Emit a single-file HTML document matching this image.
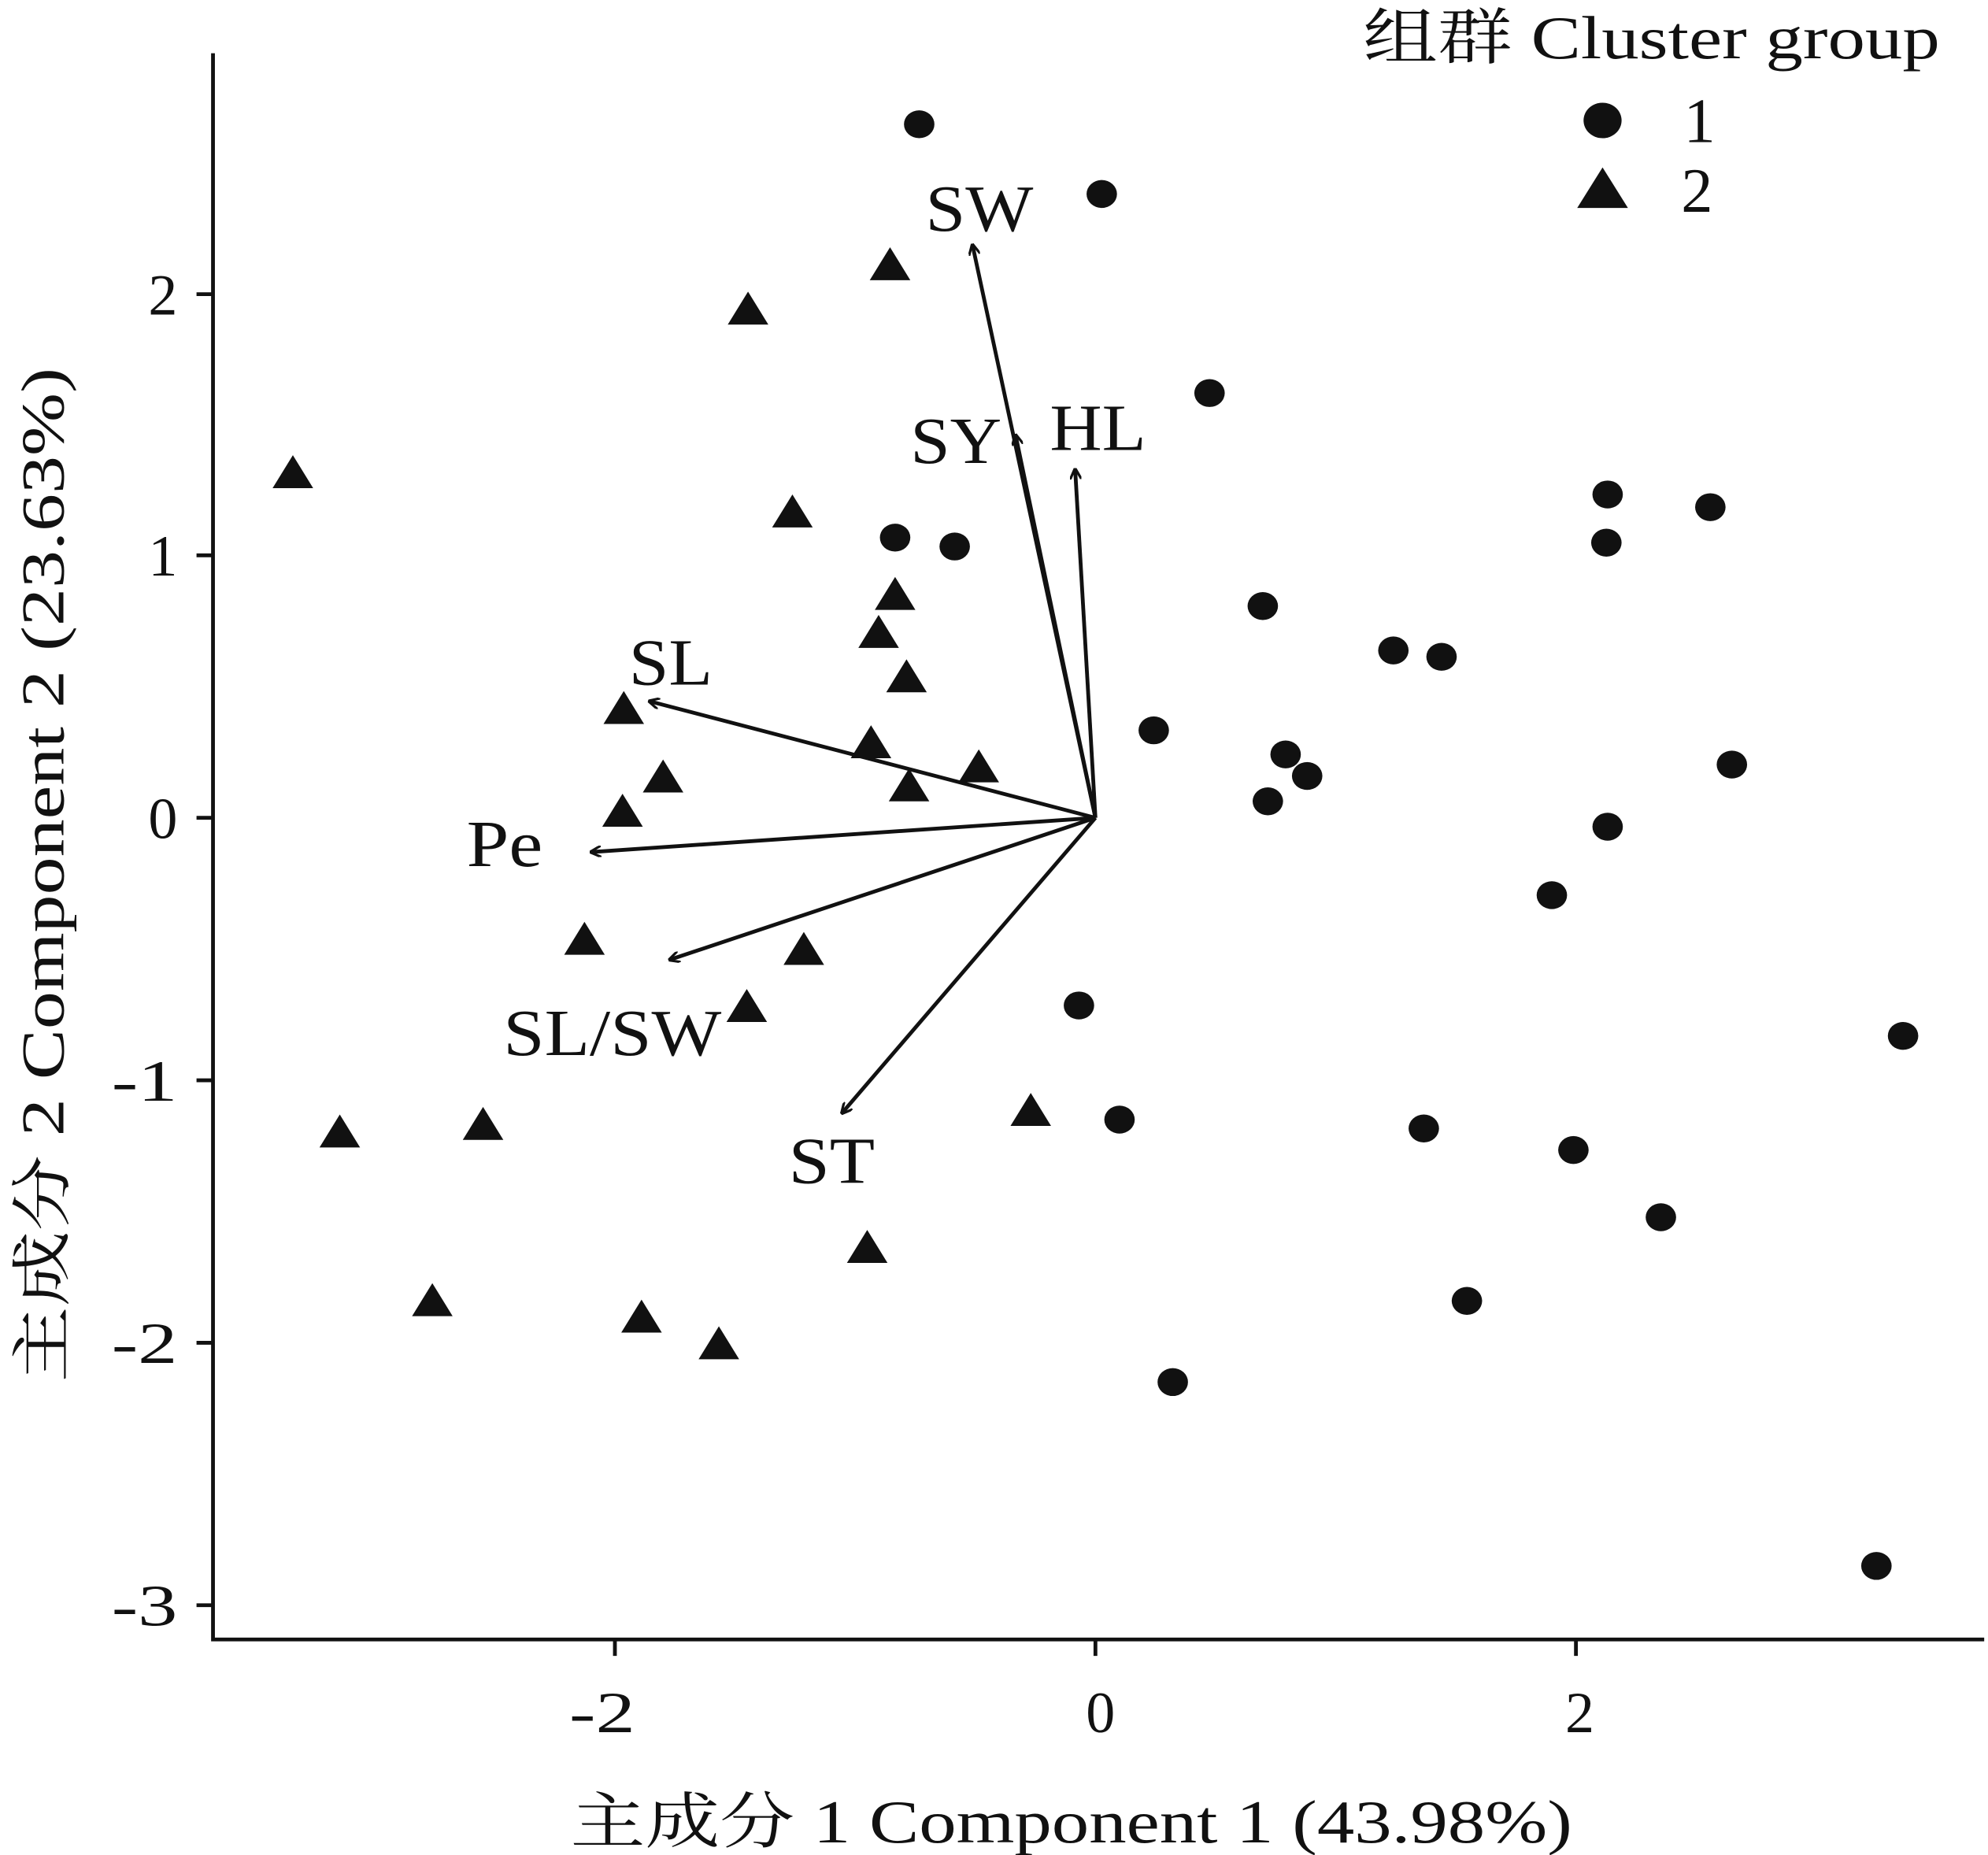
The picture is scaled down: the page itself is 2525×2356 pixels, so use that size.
<!DOCTYPE html>
<html><head><meta charset="utf-8"><style>html,body{margin:0;padding:0;background:#fff}svg{display:block}text{font-family:"Liberation Serif","Noto Serif CJK SC",serif;fill:#111}</style></head>
<body>
<svg width="2525" height="2356" viewBox="0 0 1568 1463" preserveAspectRatio="none" xmlns="http://www.w3.org/2000/svg">
<defs>
<marker id="ah" viewBox="0 0 10 10" refX="9" refY="5" markerWidth="9" markerHeight="9" orient="auto-start-reverse" markerUnits="userSpaceOnUse"><path d="M0,0 L10,5 L0,10" fill="none" stroke="#111" stroke-width="2.2"/></marker>
<g id="c"><ellipse cx="0" cy="0" rx="12" ry="11" fill="#111"/></g>
<g id="t"><path d="M0,-15 L16,11 L-16,11 Z" fill="#111"/></g>
</defs>
<g stroke="#111" stroke-width="3" fill="none">
<path d="M168,42 L168,1293 L1565,1293"/>
<path d="M155,232H168M155,438H168M155,645H168M155,852H168M155,1059H168M155,1266H168"/>
<path d="M485,1293V1306M864,1293V1306M1243,1293V1306"/>
</g>
<g font-size="46" text-anchor="end">
<text x="140" y="248">2</text><text x="140" y="454">1</text><text x="140" y="661">0</text>
<text x="140" y="868" textLength="52" lengthAdjust="spacingAndGlyphs">-1</text><text x="140" y="1075" textLength="52" lengthAdjust="spacingAndGlyphs">-2</text><text x="140" y="1282" textLength="52" lengthAdjust="spacingAndGlyphs">-3</text>
</g>
<g font-size="46" text-anchor="middle">
<text x="475" y="1366" textLength="52" lengthAdjust="spacingAndGlyphs">-2</text><text x="868" y="1366">0</text><text x="1246" y="1366">2</text>
</g>
<text x="450" y="1453" font-size="48" textLength="790" lengthAdjust="spacingAndGlyphs">主成分 1 Component 1 (43.98%)</text>
<text transform="translate(50,1090) rotate(-90)" font-size="48" textLength="800" lengthAdjust="spacingAndGlyphs">主成分 2 Component 2 (23.63%)</text>
<g stroke="#111" stroke-width="3" marker-end="url(#ah)">
<line x1="864" y1="645" x2="767" y2="193"/>
<line x1="864" y1="645" x2="801" y2="343"/>
<line x1="864" y1="645" x2="848" y2="370"/>
<line x1="864" y1="645" x2="512" y2="553"/>
<line x1="864" y1="645" x2="466" y2="672"/>
<line x1="864" y1="645" x2="528" y2="757"/>
<line x1="864" y1="645" x2="664" y2="878"/>
</g>
<g font-size="52">
<text x="730" y="182" textLength="85" lengthAdjust="spacingAndGlyphs">SW</text><text x="718" y="365" textLength="72" lengthAdjust="spacingAndGlyphs">SY</text><text x="828" y="355" textLength="76" lengthAdjust="spacingAndGlyphs">HL</text>
<text x="496" y="540" textLength="66" lengthAdjust="spacingAndGlyphs">SL</text><text x="368" y="683" textLength="60" lengthAdjust="spacingAndGlyphs">Pe</text><text x="397" y="832" textLength="172" lengthAdjust="spacingAndGlyphs">SL/SW</text><text x="622" y="933" textLength="68" lengthAdjust="spacingAndGlyphs">ST</text>
</g>
<g>
<use href="#c" x="725" y="98"/><use href="#c" x="869" y="153"/><use href="#c" x="954" y="310"/><use href="#c" x="1268" y="390"/><use href="#c" x="1349" y="400"/><use href="#c" x="1267" y="428"/><use href="#c" x="706" y="424"/><use href="#c" x="753" y="431"/><use href="#c" x="996" y="478"/><use href="#c" x="1099" y="513"/><use href="#c" x="1137" y="518"/><use href="#c" x="910" y="576"/><use href="#c" x="1014" y="595"/><use href="#c" x="1031" y="612"/><use href="#c" x="1000" y="632"/><use href="#c" x="1366" y="603"/><use href="#c" x="1268" y="652"/><use href="#c" x="1224" y="706"/><use href="#c" x="851" y="793"/><use href="#c" x="1501" y="817"/><use href="#c" x="883" y="883"/><use href="#c" x="1123" y="890"/><use href="#c" x="1241" y="907"/><use href="#c" x="1310" y="960"/><use href="#c" x="1157" y="1026"/><use href="#c" x="925" y="1090"/><use href="#c" x="1480" y="1235"/>
<use href="#t" x="702" y="210"/><use href="#t" x="590" y="245"/><use href="#t" x="231" y="374"/><use href="#t" x="625" y="405"/><use href="#t" x="706" y="470"/><use href="#t" x="693" y="500"/><use href="#t" x="715" y="535"/><use href="#t" x="492" y="560"/><use href="#t" x="687" y="587"/><use href="#t" x="523" y="614"/><use href="#t" x="772" y="606"/><use href="#t" x="717" y="621"/><use href="#t" x="491" y="641"/><use href="#t" x="461" y="742"/><use href="#t" x="634" y="750"/><use href="#t" x="589" y="795"/><use href="#t" x="268" y="894"/><use href="#t" x="381" y="888"/><use href="#t" x="813" y="877"/><use href="#t" x="684" y="985"/><use href="#t" x="341" y="1027"/><use href="#t" x="506" y="1040"/><use href="#t" x="567" y="1061"/>
</g>
<text x="1075" y="46" font-size="48" textLength="455" lengthAdjust="spacingAndGlyphs">组群 Cluster group</text>
<ellipse cx="1264" cy="95" rx="15" ry="14" fill="#111"/>
<path d="M1264,132 L1284,164 L1244,164 Z" fill="#111"/>
<text x="1328" y="112" font-size="50">1</text>
<text x="1326" y="167" font-size="50">2</text>
</svg>
</body></html>
